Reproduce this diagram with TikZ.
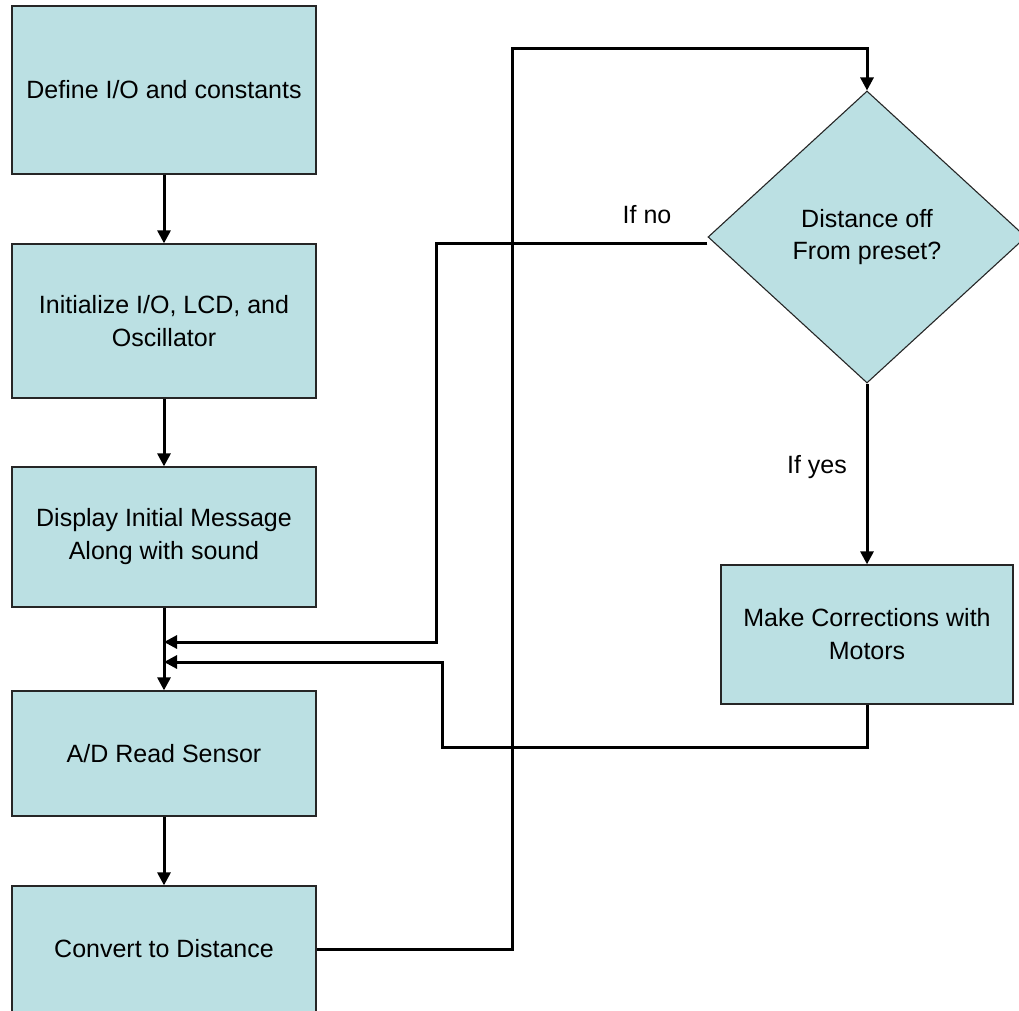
\documentclass[tikz,border=0pt]{standalone}
\usepackage{fontspec}
\setmainfont{Liberation Sans}
\usetikzlibrary{arrows.meta,shapes.geometric}
\definecolor{boxfill}{RGB}{187,224,227}
\begin{document}
\begin{tikzpicture}[x=1pt,y=-1pt,
  box/.style={draw=black!85, line width=1.3pt, fill=boxfill, rectangle, inner sep=0pt,
    minimum width=304pt, align=center, font=\fontsize{25}{33}\selectfont},
  dec/.style={draw=black!85, line width=1.1pt, fill=boxfill, diamond, inner sep=0pt,
    minimum width=318pt, minimum height=292pt, align=center, font=\fontsize{25}{32}\selectfont},
  flow/.style={line width=3pt, -{Triangle[length=13pt,width=13pt]}},
  lbl/.style={font=\fontsize{25}{30}\selectfont, inner sep=0pt}]
\useasboundingbox (0,0) rectangle (1019,1010);
% nodes
\node[box, minimum height=168pt] (b1) at (164,90) {Define I/O and constants};
\node[box, minimum height=154pt] (b2) at (164,321) {Initialize I/O, LCD, and\\Oscillator};
\node[box, minimum height=140pt] (b3) at (164,537) {Display Initial Message\\Along with sound};
\node[box, minimum height=125pt] (b4) at (164,753.5) {A/D Read Sensor};
\node[box, minimum height=126pt] (b5) at (164,949) {Convert to Distance};
\node[dec] (dia) at (867,237) {Distance off\\From preset?};
\node[box, minimum width=292pt, minimum height=139pt] (b6) at (867,634.5) {Make Corrections with\\Motors};
\node[lbl] (ln) at (647,215) {If no};
\node[lbl] (ly) at (817,467) {If yes};
\coordinate (j1) at (164,642);
\coordinate (j2) at (164,662);
% connectors
\draw[flow] (b1) -- (b2);
\draw[flow] (b2) -- (b3);
\draw[flow] (b3) -- (b4);
\draw[flow] (b4) -- (b5);
\draw[flow] (b5.east) -| (512,48) -| (dia.north);
\draw[flow] ([yshift=-6pt]dia.west) -| (436,642) -- (j1);
\draw[flow] (dia.south) -- (b6.north);
\draw[flow] (b6.south) |- (442,747) |- (j2);
\end{tikzpicture}
\end{document}
